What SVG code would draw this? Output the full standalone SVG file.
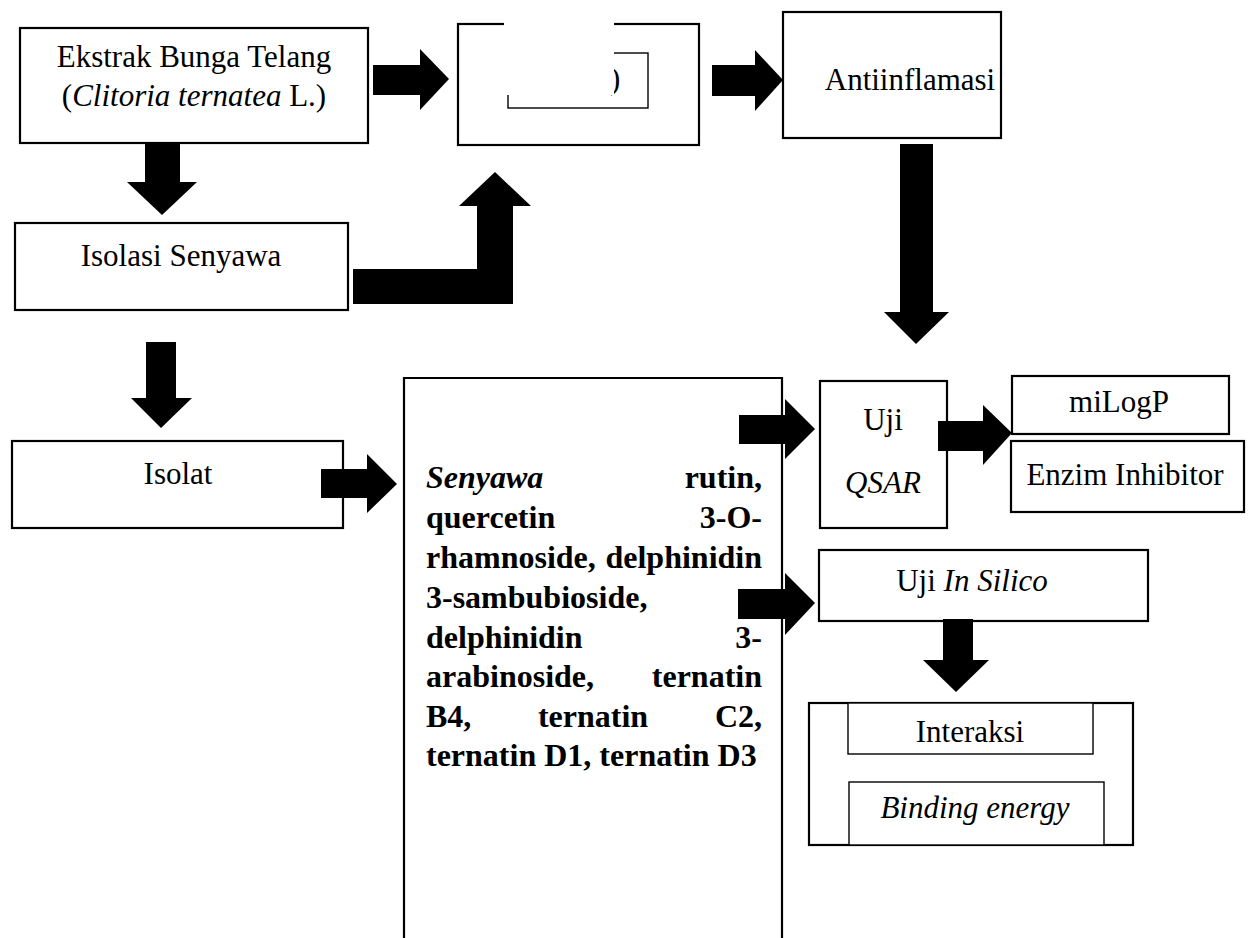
<svg xmlns="http://www.w3.org/2000/svg" width="1253" height="938" viewBox="0 0 1253 938">
<style>
.box{fill:#fff;stroke:#000;stroke-width:2.2}
.thin{fill:#fff;stroke:#000;stroke-width:1.4}
.t{font-family:"Liberation Serif","Times New Roman",serif;font-size:31px;fill:#000}
.c{text-anchor:middle}
.b{font-family:"Liberation Serif","Times New Roman",serif;font-size:32px;font-weight:bold;fill:#000}
.e{text-anchor:end}
.arrow{fill:#000;stroke:none}
</style>
<rect width="1253" height="938" fill="#fff"/>
<g id="node-ekstrak">
  <rect class="box" x="20" y="28" width="348" height="115"/>
  <text class="t c" x="194" y="67">Ekstrak Bunga Telang</text>
  <text class="t c" x="194" y="106">(<tspan font-style="italic">Clitoria ternatea</tspan> L.)</text>
</g>
<g id="node-middle">
  <rect class="box" x="458" y="24" width="241" height="121"/>
  <rect class="thin" x="508" y="53" width="140" height="55"/>
  <text class="t" x="610" y="89" font-size="15">)</text>
  <rect x="504" y="0" width="110" height="95" fill="#fff"/>
</g>
<g id="node-antiinflamasi">
  <rect class="box" x="783" y="12" width="218" height="126"/>
  <text class="t c" x="910" y="90">Antiinflamasi</text>
</g>
<g id="node-isolasi">
  <rect class="box" x="15" y="223" width="333" height="87"/>
  <text class="t c" x="181" y="266">Isolasi Senyawa</text>
</g>
<g id="node-isolat">
  <rect class="box" x="12" y="441" width="331" height="87"/>
  <text class="t c" x="178" y="484">Isolat</text>
</g>
<g id="node-senyawa">
  <path d="M404,938 V378 H782 V938" fill="#fff" stroke="#000" stroke-width="2.2"/>
  <text class="b" x="426" y="488"><tspan font-style="italic">Senyawa</tspan></text>
  <text class="b e" x="762" y="488">rutin,</text>
  <text class="b" x="426" y="528">quercetin</text>
  <text class="b e" x="762" y="528">3-O-</text>
  <text class="b" x="426" y="568">rhamnoside,</text>
  <text class="b e" x="762" y="568">delphinidin</text>
  <text class="b" x="426" y="608">3-sambubioside,</text>
  <text class="b" x="426" y="648">delphinidin</text>
  <text class="b e" x="762" y="648">3-</text>
  <text class="b" x="426" y="687">arabinoside,</text>
  <text class="b e" x="762" y="687">ternatin</text>
  <text class="b" x="426" y="727">B4,</text>
  <text class="b c" x="593" y="727">ternatin</text>
  <text class="b e" x="762" y="727">C2,</text>
  <text class="b" x="426" y="766">ternatin D1, ternatin D3</text>
</g>
<g id="node-qsar">
  <rect class="box" x="820" y="381" width="127" height="147"/>
  <text class="t c" x="883" y="430">Uji</text>
  <text class="t c" x="883" y="493" font-style="italic">QSAR</text>
</g>
<g id="node-milogp">
  <rect class="box" x="1012" y="376" width="217" height="58"/>
  <text class="t c" x="1119" y="412">miLogP</text>
</g>
<g id="node-enzim">
  <rect class="box" x="1011" y="441" width="233" height="71"/>
  <text class="t c" x="1125" y="485">Enzim Inhibitor</text>
</g>
<g id="node-insilico">
  <rect class="box" x="819" y="550" width="329" height="71"/>
  <text class="t c" x="972" y="591">Uji <tspan font-style="italic">In Silico</tspan></text>
</g>
<g id="node-hasil">
  <rect class="box" x="809" y="703" width="324" height="142"/>
  <rect class="thin" x="848" y="703" width="245" height="51"/>
  <text class="t c" x="970" y="742">Interaksi</text>
  <rect class="thin" x="849" y="782" width="255" height="63"/>
  <text class="t c" x="975" y="818" font-style="italic">Binding energy</text>
</g>
<g id="connectors">
  <polygon class="arrow" points="373,65 420,65 420,49 449,79 420,110 420,95 373,95"/>
  <polygon class="arrow" points="712,65 755,65 755,50 783,80 755,111 755,96 712,96"/>
  <polygon class="arrow" points="145,143 180,143 180,182 197,182 162,215 127,182 145,182"/>
  <polygon class="arrow" points="353,269 477,269 477,206 459,206 495,172 531,206 513,206 513,304 353,304"/>
  <polygon class="arrow" points="900,144 933,144 933,312 949,312 916,344 884,312 900,312"/>
  <polygon class="arrow" points="146,342 176,342 176,398 192,398 161,428 131,398 146,398"/>
  <polygon class="arrow" points="321,469 367,469 367,454 397,484 367,513 367,498 321,498"/>
  <polygon class="arrow" points="739,415 785,415 785,399 815,429 785,459 785,444 739,444"/>
  <polygon class="arrow" points="938,421 983,421 983,405 1012,433 983,465 983,451 938,451"/>
  <polygon class="arrow" points="738,589 785,589 785,573 815,603 785,635 785,619 738,619"/>
  <polygon class="arrow" points="943,619 973,619 973,660 989,660 956,692 923,660 943,660"/>
</g>
</svg>
